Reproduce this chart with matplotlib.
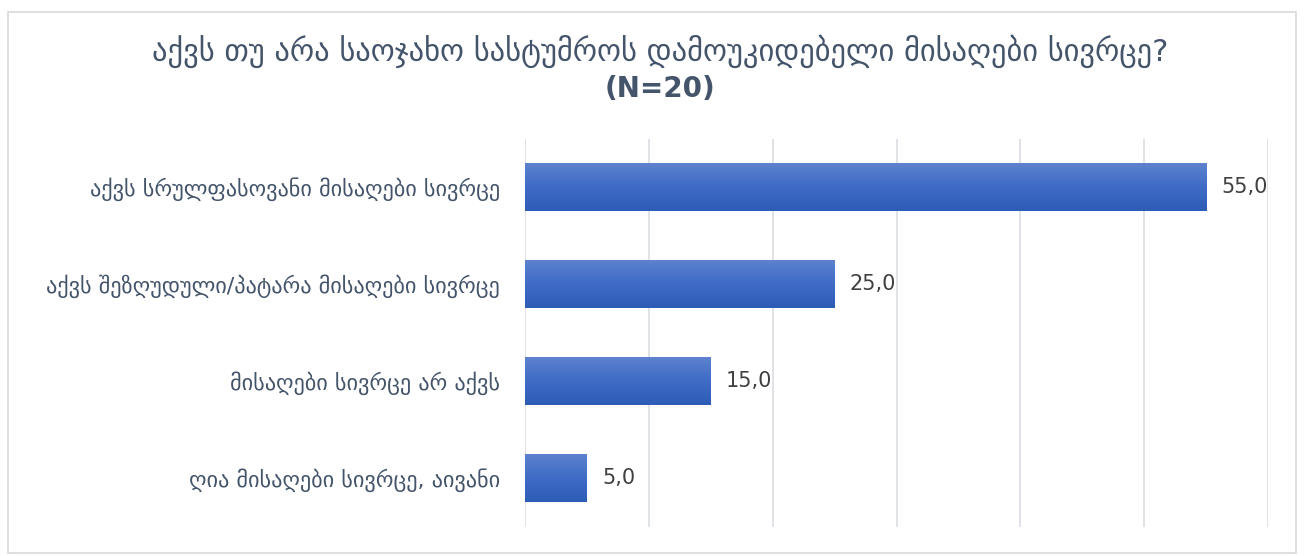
import numpy as np
import matplotlib.pyplot as plt
from matplotlib.patches import Rectangle
from matplotlib.colors import LinearSegmentedColormap

plt.rcParams['font.family'] = ['DejaVu Sans']

title_line1 = "აქვს თუ არა საოჯახო სასტუმროს დამოუკიდებელი მისაღები სივრცე?"
title_line2 = "(N=20)"
categories = [
    "აქვს სრულფასოვანი მისაღები სივრცე",
    "აქვს შეზღუდული/პატარა მისაღები სივრცე",
    "მისაღები სივრცე არ აქვს",
    "ღია მისაღები სივრცე, აივანი",
]
values = [55.0, 25.0, 15.0, 5.0]
x_max = 60
x_step = 10

text_color = "#44546A"
grid_color = "#D9DDE3"

fig = plt.figure(figsize=(13.04, 5.56), dpi=100)
fig.patch.set_facecolor("white")

# chart frame
fig.patches.append(Rectangle((8 / 1304, 3 / 556), 1288 / 1304, 541 / 556,
                             transform=fig.transFigure, fill=False,
                             edgecolor="#D9D9D9", linewidth=1.2))

ax = fig.add_axes([525 / 1304, 29.5 / 556, 743 / 1304, 388 / 556])
y = np.arange(len(categories))
bars = ax.barh(y, values, height=0.5, color="#3F6CC4", zorder=2)

# vertical gradient fill on each bar
cmap = LinearSegmentedColormap.from_list("bar", ["#5F83CF", "#3F6CC6", "#2C5CB5"])
grad = np.linspace(0, 1, 256).reshape(-1, 1)
for b in bars:
    x0, y0 = b.get_x(), b.get_y()
    w, h = b.get_width(), b.get_height()
    im = ax.imshow(grad, cmap=cmap, aspect="auto",
                   extent=[x0, x0 + w, y0 + h, y0], zorder=3,
                   interpolation="bicubic")
    im.set_clip_path(b)
    b.set_facecolor("none")
ax.set_ylim(len(categories) - 0.5, -0.5)
ax.set_xlim(0, x_max)

ax.set_xticks(np.arange(0, x_max + 1, x_step))
ax.xaxis.grid(True, color=grid_color, linewidth=1.2, zorder=0)
ax.tick_params(axis="x", length=0, labelbottom=False)
ax.tick_params(axis="y", length=0, pad=18)
ax.set_yticks(y)
ax.set_yticklabels(categories, fontsize=16, color=text_color)
for s in ax.spines.values():
    s.set_visible(False)

for yi, v in zip(y, values):
    ax.annotate(f"{v:.1f}".replace(".", ","), (v, yi), xytext=(11, 0),
                textcoords="offset points", va="center", ha="left",
                fontsize=15, color="#404040", zorder=4)

fig.text(660 / 1304, 1 - 51 / 556, title_line1, ha="center", va="center",
         fontsize=22, color=text_color)
fig.text(660 / 1304, 1 - 89 / 556, title_line2, ha="center", va="center",
         fontsize=20, color=text_color, fontweight="bold")

fig.savefig("out.png", dpi=100, facecolor="white")
